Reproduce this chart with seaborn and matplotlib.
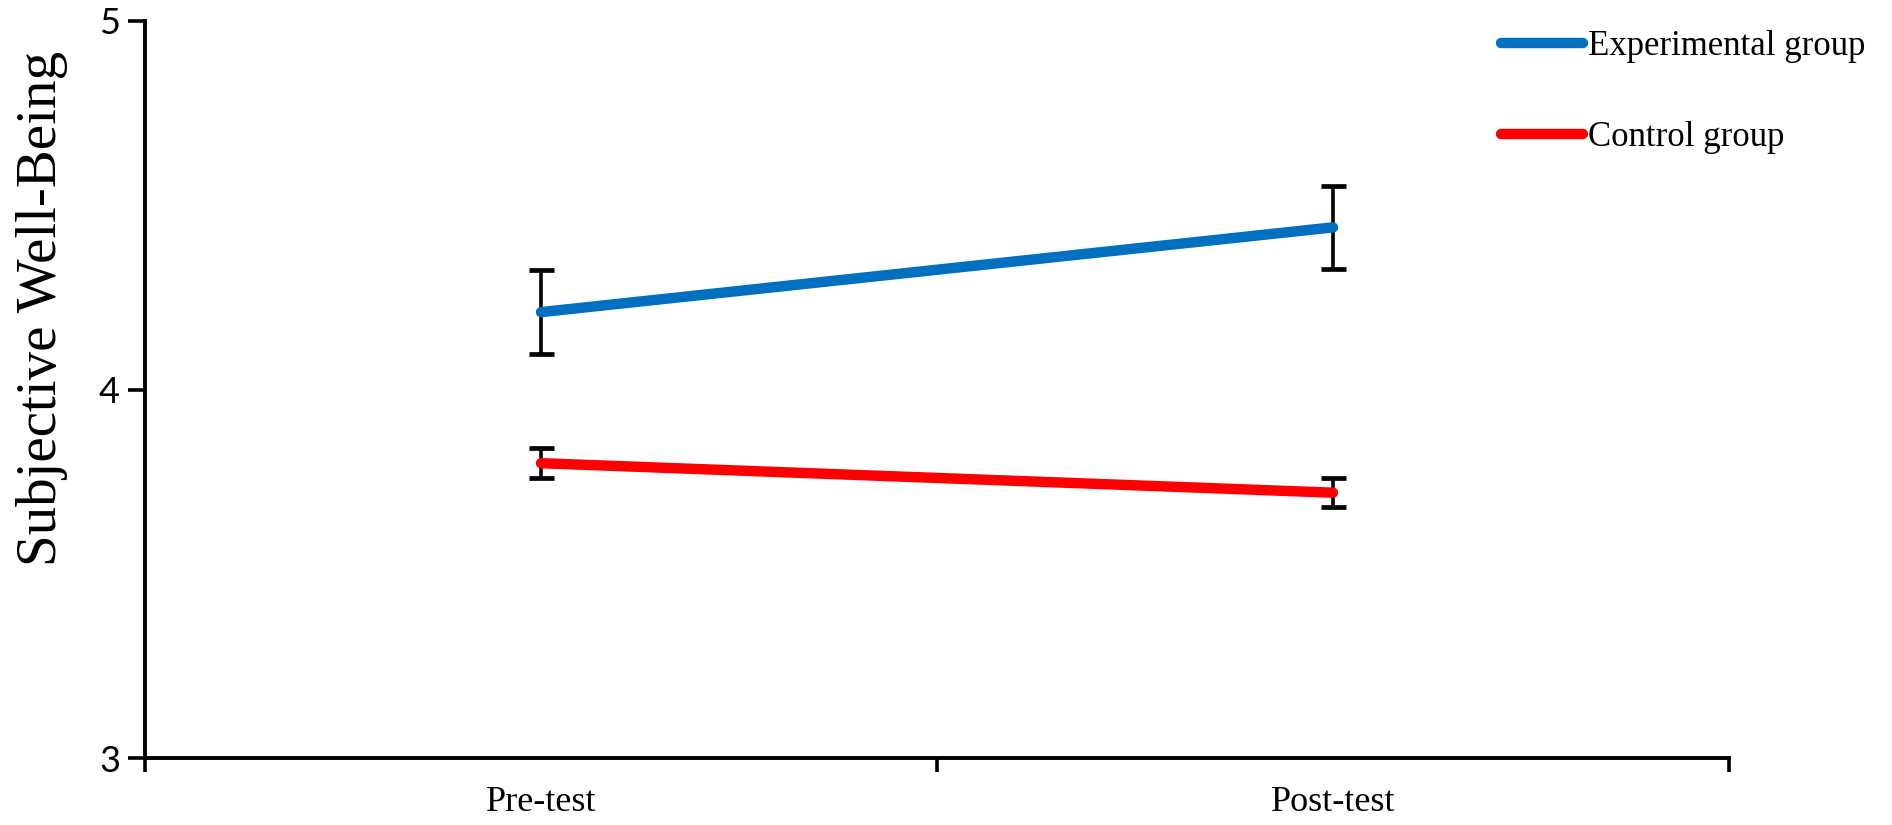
import numpy as np
import pandas as pd
import seaborn as sns
import matplotlib
matplotlib.use("Agg")
import matplotlib.pyplot as plt
from matplotlib.ticker import FixedLocator
from matplotlib.lines import Line2D

# ---- data ----
phases = ["Pre-test", "Post-test"]
groups = ["Experimental group", "Control group"]
exp_means = [4.21, 4.44]
exp_err = [0.113, 0.113]
ctrl_means = [3.80, 3.72]
ctrl_err = [0.04, 0.04]
y_ticks = [3, 4, 5]
y_label = "Subjective Well-Being"
colors = {"Experimental group": "#0070C0", "Control group": "#FF0000"}

df = pd.DataFrame({
    "phase": phases * 2,
    "x": [0, 1, 0, 1],
    "group": [groups[0]] * 2 + [groups[1]] * 2,
    "mean": exp_means + ctrl_means,
    "err": exp_err + ctrl_err,
})

sns.set_theme(style="white")
plt.rcParams["font.family"] = ["Liberation Serif", "DejaVu Serif"]
plt.rcParams["text.color"] = "black"
plt.rcParams["axes.labelcolor"] = "black"
plt.rcParams["xtick.color"] = "black"
plt.rcParams["ytick.color"] = "black"

fig = plt.figure(figsize=(18.92, 8.25), dpi=100)
ax = fig.add_axes([145 / 1892, 1 - 758 / 825, (1729 - 145) / 1892, (758 - 21) / 825])

# error bars (drawn first, under lines)
for g in groups:
    sub = df[df["group"] == g]
    ax.errorbar(sub["x"], sub["mean"], yerr=sub["err"], fmt="none",
                ecolor="black", elinewidth=2.6, capsize=9, capthick=3.4, zorder=2)

sns.lineplot(data=df, x="x", y="mean", hue="group", palette=colors,
             hue_order=groups, linewidth=7.5, ax=ax, legend=False,
             solid_capstyle="round", zorder=3)

ax.set_xlim(-0.5, 1.5)
ax.set_ylim(3, 5)
ax.set_xticks([0, 1])
ax.set_xticklabels(phases, fontsize=26, family=["Liberation Serif"], color="black")
ax.xaxis.set_minor_locator(FixedLocator([-0.5, 0.5, 1.5]))
ax.tick_params(axis="x", which="major", length=0, pad=20)
ax.tick_params(axis="x", which="minor", length=10, width=2.6, color="black", direction="out", bottom=True)
ax.set_yticks(y_ticks)
ax.set_yticklabels([str(t) for t in y_ticks], fontsize=26, family=["Lato", "DejaVu Sans"], color="black")
ax.tick_params(axis="y", which="major", length=12, width=2.6, color="black", direction="out", left=True, pad=6)

for side in ["top", "right"]:
    ax.spines[side].set_visible(False)
for side in ["left", "bottom"]:
    ax.spines[side].set_linewidth(2.8)
    ax.spines[side].set_color("black")

ax.set_xlabel("")
ax.set_ylabel(y_label, fontsize=41, family=["Liberation Serif"], va="center", color="black")
ax.yaxis.set_label_coords(-0.065, 0.61)

# legend
handles = [Line2D([0], [0], color=colors[g], linewidth=7.5, solid_capstyle="round") for g in groups]
leg = fig.legend(handles, groups, loc="upper left", bbox_to_anchor=(1501 / 1892, 1 - 30 / 825),
                 frameon=False, handlelength=2.35, handletextpad=0.15,
                 labelspacing=1.67, borderpad=0, borderaxespad=0,
                 prop={"family": "Liberation Serif", "size": 25})
for t in leg.get_texts():
    t.set_color("black")

fig.savefig("out.png", dpi=100, facecolor="white")
